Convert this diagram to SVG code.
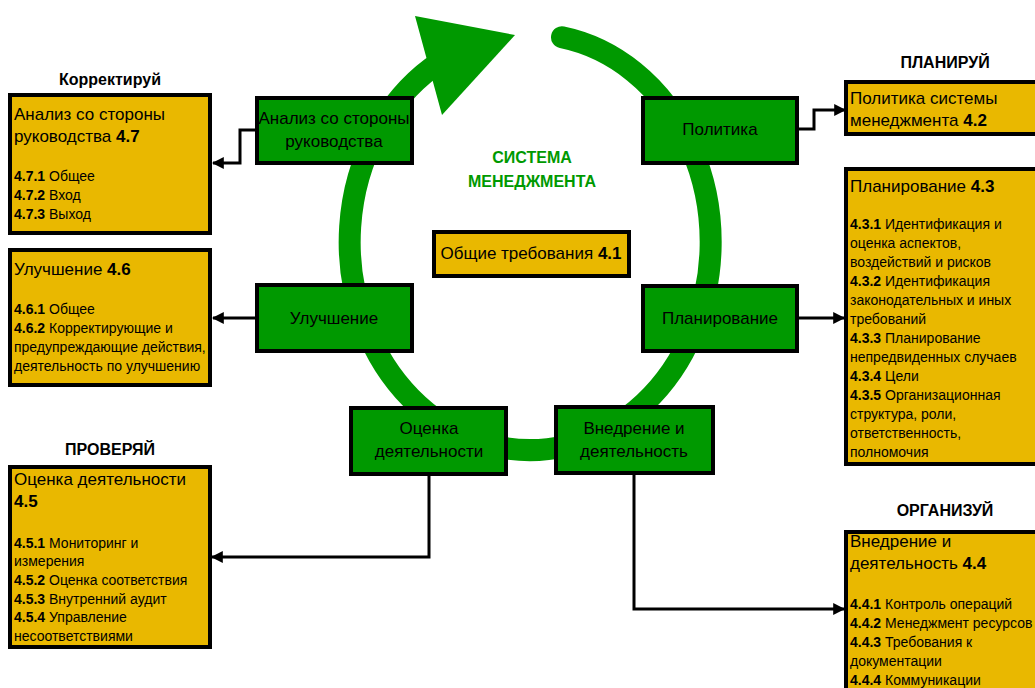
<svg xmlns="http://www.w3.org/2000/svg" width="1035" height="688" viewBox="0 0 1035 688">
  <defs>
    <style>
      text { font-family: "Liberation Sans", Arial, sans-serif; fill: #000; }
      .hdr { font-size: 16px; font-weight: bold; text-anchor: middle; }
      .big { font-size: 17px; }
      .sm { font-size: 14px; }
      .mid { text-anchor: middle; }
      .b { font-weight: bold; }
      .sys { font-size: 16px; font-weight: bold; fill: #009900; text-anchor: middle; }
      .yel { fill: #E9B800; stroke: #000; stroke-width: 4; }
      .grn { fill: #009900; stroke: #000; stroke-width: 4; }
      .ring { fill: none; stroke: #009900; stroke-width: 22; stroke-linecap: round; }
      .link { fill: none; stroke: #000; stroke-width: 3; marker-end: url(#arr); }
    </style>
    <marker id="arr" viewBox="0 0 10 10" refX="9" refY="5" markerWidth="4" markerHeight="4" orient="auto" markerUnits="strokeWidth">
      <path d="M0,0 L10,5 L0,10 Z" fill="#000"/>
    </marker>
  </defs>

  <rect width="1035" height="688" fill="#fff"/>

  <!-- management cycle ring with arrowhead -->
  <g id="cycle">
    <path class="ring" d="M562,37.3 A180.5,208 0 1 1 432,67.5"/>
    <polygon points="415,16 515,35 442,115" fill="#009900"/>
  </g>

  <g id="system-title">
    <text class="sys" x="532" y="163">СИСТЕМА</text>
    <text class="sys" x="532" y="187">МЕНЕДЖМЕНТА</text>
  </g>

  <!-- connectors -->
  <g id="connectors">
    <path class="link" d="M255,130 H240 V163 H213"/>
    <path class="link" d="M255,318 H213"/>
    <path class="link" d="M799,129 H814 V110 H845"/>
    <path class="link" d="M799,318 H844"/>
    <path class="link" d="M429,476 V557 H212"/>
    <path class="link" d="M634,475 V609 H844"/>
  </g>

  <!-- central requirement -->
  <g id="general">
    <rect class="yel" x="434" y="232" width="195" height="44"/>
    <text class="big mid" x="531" y="259">Общие требования <tspan class="b">4.1</tspan></text>
  </g>

  <!-- cycle stages -->
  <g id="stage-review">
    <rect class="grn" x="257" y="98" width="155" height="65"/>
    <text class="big mid" x="334" y="124">Анализ со стороны</text>
    <text class="big mid" x="334" y="147">руководства</text>
  </g>
  <g id="stage-policy">
    <rect class="grn" x="643" y="98" width="154" height="65"/>
    <text class="big mid" x="720" y="135">Политика</text>
  </g>
  <g id="stage-planning">
    <rect class="grn" x="643" y="286" width="154" height="65"/>
    <text class="big mid" x="720" y="324">Планирование</text>
  </g>
  <g id="stage-improvement">
    <rect class="grn" x="257" y="285" width="155" height="66"/>
    <text class="big mid" x="334" y="324">Улучшение</text>
  </g>
  <g id="stage-evaluation">
    <rect class="grn" x="351" y="408" width="155" height="66"/>
    <text class="big mid" x="429" y="434">Оценка</text>
    <text class="big mid" x="429" y="457">деятельности</text>
  </g>
  <g id="stage-operation">
    <rect class="grn" x="556" y="407" width="157" height="66"/>
    <text class="big mid" x="634" y="434">Внедрение и</text>
    <text class="big mid" x="634" y="457">деятельность</text>
  </g>

  <!-- ACT -->
  <g id="act">
    <text class="hdr" x="110" y="85">Корректируй</text>
    <rect class="yel" x="10" y="95" width="200" height="138"/>
    <text class="big" x="14" y="120">Анализ со стороны</text>
    <text class="big" x="14" y="142">руководства <tspan class="b">4.7</tspan></text>
    <text class="sm" x="14" y="181"><tspan class="b">4.7.1</tspan> Общее</text>
    <text class="sm" x="14" y="200"><tspan class="b">4.7.2</tspan> Вход</text>
    <text class="sm" x="14" y="219"><tspan class="b">4.7.3</tspan> Выход</text>
  </g>

  <g id="improvement">
    <rect class="yel" x="10" y="250" width="200" height="135"/>
    <text class="big" x="14" y="275">Улучшение <tspan class="b">4.6</tspan></text>
    <text class="sm" x="14" y="314"><tspan class="b">4.6.1</tspan> Общее</text>
    <text class="sm" x="14" y="333"><tspan class="b">4.6.2</tspan> Корректирующие и</text>
    <text class="sm" x="14" y="352">предупреждающие действия,</text>
    <text class="sm" x="14" y="371">деятельность по улучшению</text>
  </g>

  <!-- CHECK -->
  <g id="check">
    <text class="hdr" x="110" y="455">ПРОВЕРЯЙ</text>
    <rect class="yel" x="10" y="467" width="200" height="180"/>
    <text class="big" x="14" y="485">Оценка деятельности</text>
    <text class="big b" x="14" y="507">4.5</text>
    <text class="sm" x="14" y="548"><tspan class="b">4.5.1</tspan> Мониторинг и</text>
    <text class="sm" x="14" y="566">измерения</text>
    <text class="sm" x="14" y="585"><tspan class="b">4.5.2</tspan> Оценка соответствия</text>
    <text class="sm" x="14" y="604"><tspan class="b">4.5.3</tspan> Внутренний аудит</text>
    <text class="sm" x="14" y="622"><tspan class="b">4.5.4</tspan> Управление</text>
    <text class="sm" x="14" y="641">несоответствиями</text>
  </g>

  <!-- PLAN -->
  <g id="plan">
    <text class="hdr" x="945" y="68">ПЛАНИРУЙ</text>
    <rect class="yel" x="846" y="82" width="200" height="52"/>
    <text class="big" x="850" y="104">Политика системы</text>
    <text class="big" x="850" y="126">менеджмента <tspan class="b">4.2</tspan></text>
  </g>

  <g id="planning">
    <rect class="yel" x="846" y="169" width="200" height="295"/>
    <text class="big" x="850" y="192">Планирование <tspan class="b">4.3</tspan></text>
    <text class="sm" x="850" y="229"><tspan class="b">4.3.1</tspan> Идентификация и</text>
    <text class="sm" x="850" y="248">оценка аспектов,</text>
    <text class="sm" x="850" y="267">воздействий и рисков</text>
    <text class="sm" x="850" y="286"><tspan class="b">4.3.2</tspan> Идентификация</text>
    <text class="sm" x="850" y="305">законодательных и иных</text>
    <text class="sm" x="850" y="324">требований</text>
    <text class="sm" x="850" y="343"><tspan class="b">4.3.3</tspan> Планирование</text>
    <text class="sm" x="850" y="362">непредвиденных случаев</text>
    <text class="sm" x="850" y="381"><tspan class="b">4.3.4</tspan> Цели</text>
    <text class="sm" x="850" y="400"><tspan class="b">4.3.5</tspan> Организационная</text>
    <text class="sm" x="850" y="419">структура, роли,</text>
    <text class="sm" x="850" y="438">ответственность,</text>
    <text class="sm" x="850" y="457">полномочия</text>
  </g>

  <!-- DO -->
  <g id="do">
    <text class="hdr" x="945" y="516">ОРГАНИЗУЙ</text>
    <rect class="yel" x="846" y="532" width="200" height="170"/>
    <text class="big" x="850" y="547">Внедрение и</text>
    <text class="big" x="850" y="569">деятельность <tspan class="b">4.4</tspan></text>
    <text class="sm" x="850" y="609"><tspan class="b">4.4.1</tspan> Контроль операций</text>
    <text class="sm" x="850" y="628"><tspan class="b">4.4.2</tspan> Менеджмент ресурсов</text>
    <text class="sm" x="850" y="647"><tspan class="b">4.4.3</tspan> Требования к</text>
    <text class="sm" x="850" y="666">документации</text>
    <text class="sm" x="850" y="685"><tspan class="b">4.4.4</tspan> Коммуникации</text>
  </g>
</svg>
